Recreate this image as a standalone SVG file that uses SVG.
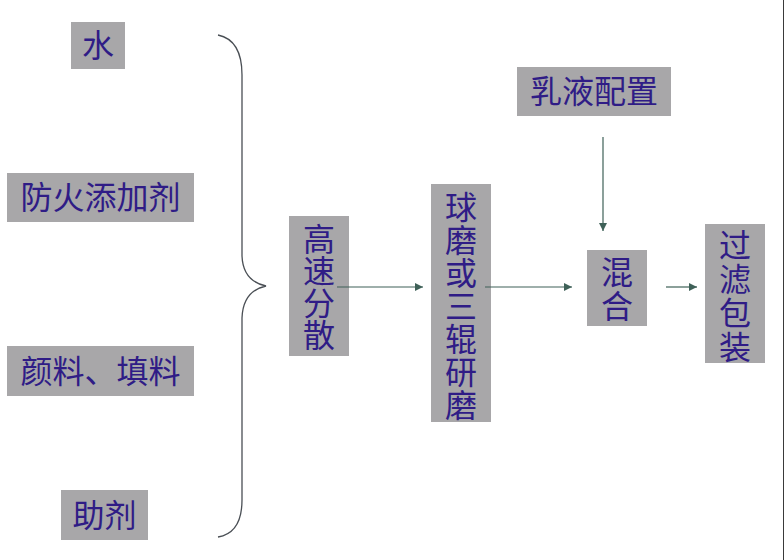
<svg xmlns="http://www.w3.org/2000/svg" width="784" height="560" viewBox="0 0 784 560">
<defs>
<style>
.box{fill:#a8a7a9;}
.t{font-family:"Noto Sans CJK SC","Noto Sans CJK TC",sans-serif;font-size:32px;fill:#2f1c86;text-anchor:middle;}
.v{writing-mode:vertical-rl;text-orientation:upright;}
.c{stroke:#3f6158;stroke-width:1.2;fill:none;}
.br{stroke:#4a4f55;stroke-width:1.3;fill:none;}
</style>
<marker id="ah" viewBox="0 0 10 10" refX="10" refY="5" markerWidth="9" markerHeight="8" markerUnits="userSpaceOnUse" orient="auto">
<path d="M0,0 L10,5 L0,10 z" fill="#3f6158"/>
</marker>
</defs>
<rect width="784" height="560" fill="#ffffff"/>
<line x1="783.5" y1="0" x2="783.5" y2="560" stroke="#3a3a3a" stroke-width="1"/>

<g id="n-water"><rect class="box" x="71" y="22" width="54" height="47"/><text class="t" x="98" y="57">水</text></g>
<g id="n-fire"><rect class="box" x="7" y="173" width="187" height="49"/><text class="t" x="100.5" y="209">防火添加剂</text></g>
<g id="n-pigment"><rect class="box" x="7" y="346" width="187" height="50"/><text class="t" x="100.5" y="383">颜料、填料</text></g>
<g id="n-aux"><rect class="box" x="61" y="490" width="87" height="50"/><text class="t" x="104.5" y="527">助剂</text></g>

<g id="n-disperse"><rect class="box" x="289" y="216" width="60" height="140"/>
<text class="t v" x="319" y="287">高速分散</text></g>

<g id="n-mill"><rect class="box" x="431" y="184" width="60" height="238"/>
<text class="t v" x="461" y="306" letter-spacing="1">球磨或三辊研磨</text></g>

<g id="n-emulsion"><rect class="box" x="517" y="67" width="154" height="49"/><text class="t" x="594" y="103">乳液配置</text></g>

<g id="n-mix"><rect class="box" x="587" y="250" width="60" height="76"/>
<text class="t v" x="617" y="290" letter-spacing="2">混合</text></g>

<g id="n-pack"><rect class="box" x="705" y="224" width="60" height="139"/>
<text class="t v" x="735" y="297" letter-spacing="2">过滤包装</text></g>

<g id="connectors">
<path class="br" d="M218,35 Q242,40 242,75 L242,256 Q243,281 266,286 Q243,291 242,318 L242,500 Q242,533 218,537"/>
<line class="c" x1="337" y1="287" x2="423" y2="287" marker-end="url(#ah)"/>
<line class="c" x1="485" y1="287" x2="572" y2="287" marker-end="url(#ah)"/>
<line class="c" x1="603" y1="137" x2="603" y2="231" marker-end="url(#ah)"/>
<line class="c" x1="666" y1="287" x2="697" y2="287" marker-end="url(#ah)"/>
</g>
</svg>
